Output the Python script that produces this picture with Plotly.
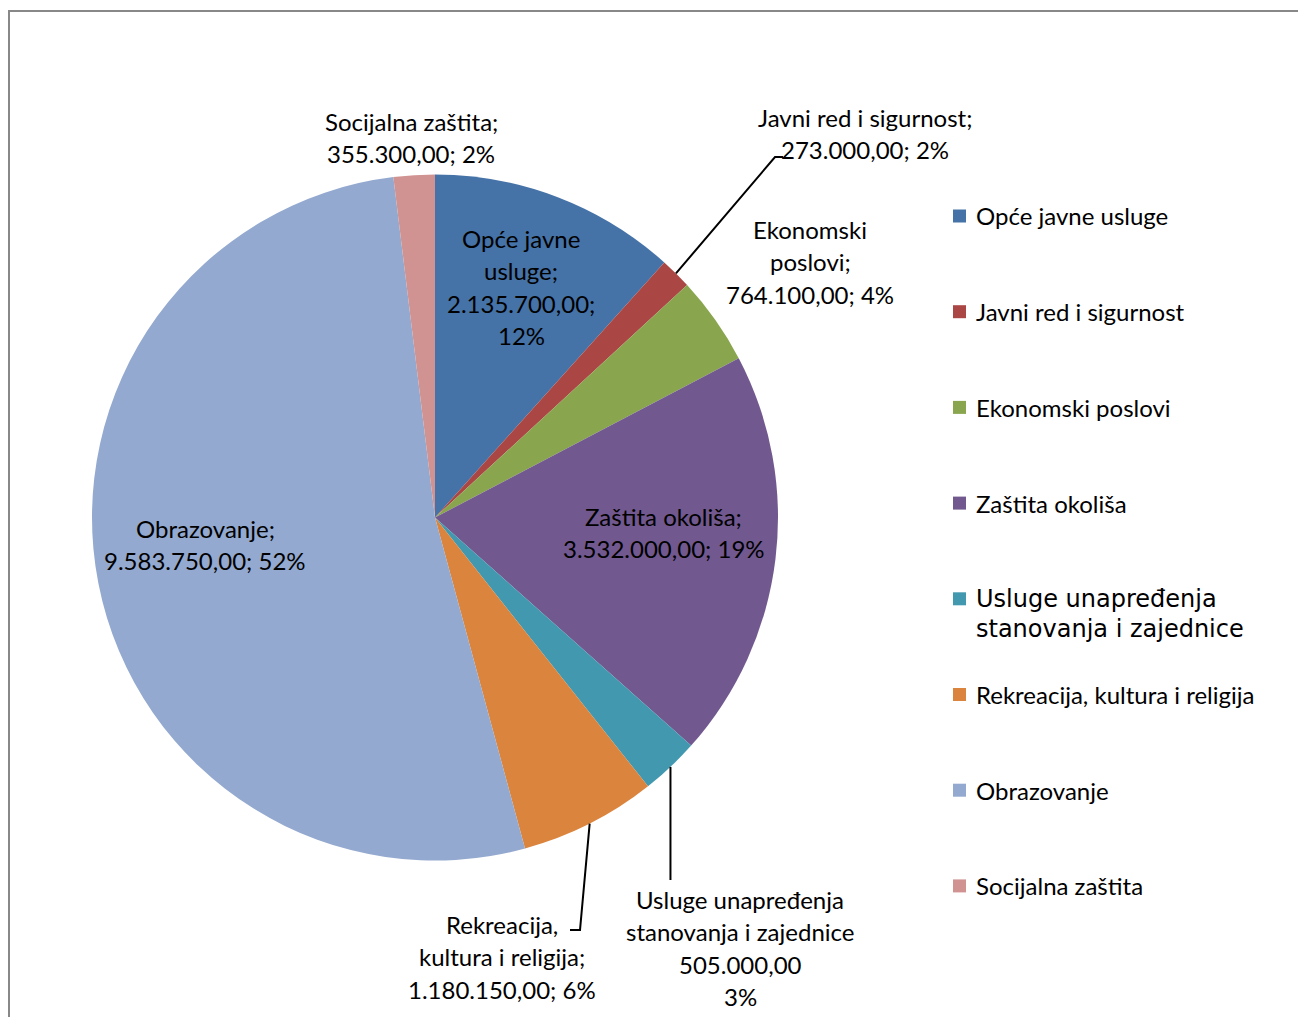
import math
import plotly.graph_objects as go

# ---------------- data ----------------
categories = [
    "Opće javne usluge",
    "Javni red i sigurnost",
    "Ekonomski poslovi",
    "Zaštita okoliša",
    "Usluge unapređenja stanovanja i zajednice",
    "Rekreacija, kultura i religija",
    "Obrazovanje",
    "Socijalna zaštita",
]
values = [2135700.00, 273000.00, 764100.00, 3532000.00, 505000.00, 1180150.00, 9583750.00, 355300.00]
percent_labels = [12, 2, 4, 19, 3, 6, 52, 2]
colors = ["#4572A7", "#AA4643", "#89A54E", "#71588F", "#4198AF", "#DB843D", "#93A9CF", "#D19392"]

# how each data label is broken into lines ({v} = value, {p} = percent)
label_templates = [
    ["Opće javne", "usluge;", "{v};", "{p}%"],
    ["Javni red i sigurnost;", "{v}; {p}%"],
    ["Ekonomski", "poslovi;", "{v}; {p}%"],
    ["Zaštita okoliša;", "{v}; {p}%"],
    ["Usluge unapređenja", "stanovanja i zajednice", "{v}", "{p}%"],
    ["Rekreacija,", "kultura i religija;", "{v}; {p}%"],
    ["Obrazovanje;", "{v}; {p}%"],
    ["Socijalna zaštita;", "{v}; {p}%"],
]
legend_lines = [
    ["Opće javne usluge"],
    ["Javni red i sigurnost"],
    ["Ekonomski poslovi"],
    ["Zaštita okoliša"],
    ["Usluge unapređenja", "stanovanja i zajednice"],
    ["Rekreacija, kultura i religija"],
    ["Obrazovanje"],
    ["Socijalna zaštita"],
]

# ---------------- layout ----------------
W, H = 1306, 1017
OX, OY = 8, 8                           # page (body) offset compensation
CX, CY, R = 435.0, 517.5, 343.0          # pie centre / radius in px (screen)
FONT = "Lato, Carlito, Calibri, sans-serif"
FONT_ALT = "DejaVu Sans, Verdana, sans-serif"
FS = 24
LINE = 32.5

# label anchor (centre x, first-line y) in px
label_pos = [(521, 238), (865, 117), (810, 229), (664, 516),
             (740, 899), (502, 924), (205, 528), (411, 121)]
# leader line extra points
leaders = {1: [(775, 157), (783, 157)],
           4: [("edge", 880)],
           5: [(580, 930), (570, 930)]}

LEG_SQ_X, LEG_TX_X, LEG_Y0, LEG_DY, LEG_SQ = 953, 974, 216, 95.7, 13


def px(x):
    return (x - OX) / W


def py(y):
    return 1 - (y - OY) / H


def fmt(v):
    s = f"{v:,.2f}"
    return s.replace(",", "#").replace(".", ",").replace("#", ".")


fig = go.Figure()
fig.add_trace(go.Pie(
    labels=categories,
    values=values,
    sort=False,
    direction="clockwise",
    rotation=0,
    marker=dict(colors=colors, line=dict(width=0)),
    textinfo="none",
    hoverinfo="label+value+percent",
    showlegend=False,
    domain=dict(x=[px(CX - R), px(CX + R)], y=[py(CY + R), py(CY - R)]),
))

annotations = []
shapes = []

# data labels
for i, tmpl in enumerate(label_templates):
    lx, ly = label_pos[i]
    for k, line in enumerate(tmpl):
        txt = line.replace("{v}", fmt(values[i])).replace("{p}", str(percent_labels[i]))
        annotations.append(dict(
            x=px(lx), y=py(ly + k * LINE), xref="paper", yref="paper",
            text=txt, showarrow=False, xanchor="center", yanchor="middle",
            font=dict(family=FONT, size=FS, color="#000000"),
        ))

# leader lines from slice mid-angle on the rim
total = sum(values)
cum = 0.0
mids = []
for v in values:
    mids.append((cum + v / 2) / total * 2 * math.pi)
    cum += v
for i, pts in leaders.items():
    a = mids[i]
    ex, ey = CX + R * math.sin(a), CY - R * math.cos(a)
    path = f"M {px(ex)} {py(ey)}"
    for (qx, qy) in pts:
        if qx == "edge":
            qx = ex
        path += f" L {px(qx)} {py(qy)}"
    shapes.append(dict(type="path", path=path, xref="paper", yref="paper",
                       line=dict(color="#000000", width=2)))

# legend
for i, lines in enumerate(legend_lines):
    yc = LEG_Y0 + i * LEG_DY
    shapes.append(dict(type="rect", xref="paper", yref="paper",
                       x0=px(LEG_SQ_X), x1=px(LEG_SQ_X + LEG_SQ),
                       y0=py(yc - LEG_SQ / 2), y1=py(yc + LEG_SQ / 2),
                       fillcolor=colors[i], line=dict(width=0)))
    alt = len(lines) > 1
    for k, line in enumerate(lines):
        annotations.append(dict(
            x=px(LEG_TX_X), y=py(yc + k * 30), xref="paper", yref="paper",
            text=line, showarrow=False, xanchor="left", yanchor="middle",
            font=dict(family=FONT_ALT if alt else FONT, size=24, color="#000000"),
        ))

# outer border
shapes.append(dict(type="rect", xref="paper", yref="paper",
                   x0=px(9), y0=py(11), x1=px(W + 30), y1=py(H + 30),
                   line=dict(color="#888888", width=2), fillcolor="rgba(0,0,0,0)"))

fig.update_layout(
    width=W, height=H,
    margin=dict(l=0, r=0, t=0, b=0),
    paper_bgcolor="white", plot_bgcolor="white",
    annotations=annotations, shapes=shapes,
    showlegend=False,
)
fig.write_html("out.html")
